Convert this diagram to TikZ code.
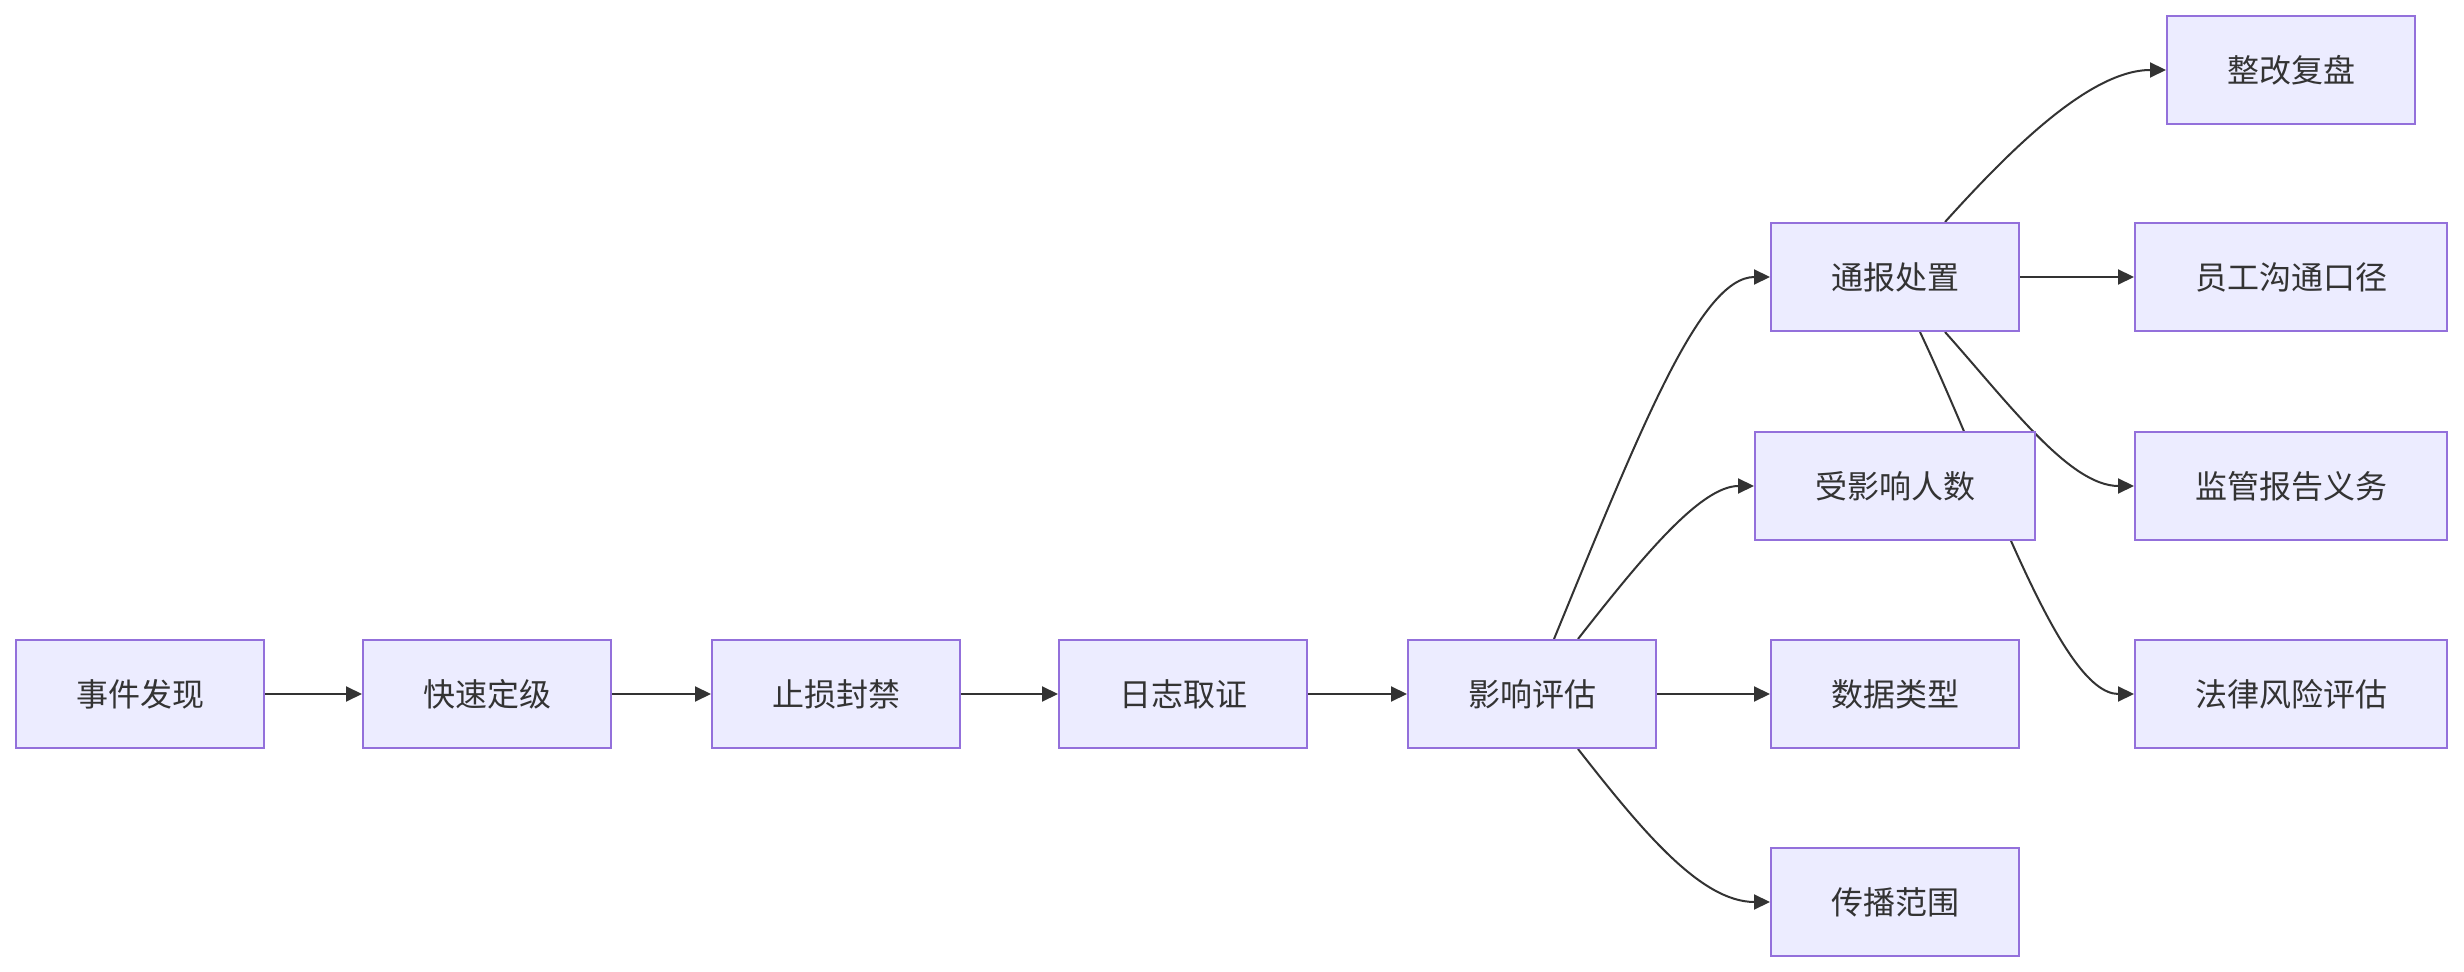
\documentclass[tikz,border=0pt]{standalone}
\usepackage{fontspec}
\newfontfamily\cjk{Noto Sans CJK SC}
\usepackage{xcolor}
\usetikzlibrary{arrows.meta, positioning, backgrounds}
\definecolor{boxfill}{HTML}{ECECFF}
\definecolor{boxline}{HTML}{9370DB}
\definecolor{ink}{HTML}{333333}
\tikzset{
    stage/.style={rectangle, minimum width=124pt, minimum height=54pt, inner xsep=30pt, text centered, draw=boxline, line width=1pt, fill=boxfill, text=ink, font=\cjk\fontsize{16}{16}\selectfont},
    arrow/.style={draw=ink, line width=1pt, -{Triangle[length=8pt, width=7.5pt]}}
}

\begin{document}
\begin{tikzpicture}[x=0.5pt, y=-0.5pt]
    \useasboundingbox (0,0) rectangle (2464,972);
    % main chain
    \node (find) [stage] at (140,694) {事件发现};
    \node (grade) [stage] at (487,694) {快速定级};
    \node (stop) [stage] at (836,694) {止损封禁};
    \node (log) [stage] at (1183,694) {日志取证};
    \node (assess) [stage] at (1532,694) {影响评估};
    % assessment branches
    \node (notify) [stage] at (1895,277) {通报处置};
    \node (people) [stage] at (1895,486) {受影响人数};
    \node (dtype) [stage] at (1895,694) {数据类型};
    \node (spread) [stage] at (1895,902) {传播范围};
    % notification branches
    \node (review) [stage] at (2291,70) {整改复盘};
    \node (staff) [stage] at (2291,277) {员工沟通口径};
    \node (regul) [stage] at (2291,486) {监管报告义务};
    \node (legal) [stage] at (2291,694) {法律风险评估};

    \begin{scope}[on background layer]
    \draw [arrow] (find) -- (grade);
    \draw [arrow] (grade) -- (stop);
    \draw [arrow] (stop) -- (log);
    \draw [arrow] (log) -- (assess);
    \draw [arrow] (assess.north -| 1554,0) .. controls (1640,430) and (1700,277) .. (notify.west);
    \draw [arrow] (assess.north -| 1578,0) .. controls (1640,560) and (1700,486) .. (people.west);
    \draw [arrow] (assess) -- (dtype);
    \draw [arrow] (assess.south -| 1578,0) .. controls (1640,828) and (1700,902) .. (spread.west);
    \draw [arrow] (notify.north -| 1945,0) .. controls (2010,150) and (2090,70) .. (review.west);
    \draw [arrow] (notify) -- (staff);
    \draw [arrow] (notify.south -| 1945,0) .. controls (2010,405) and (2070,486) .. (regul.west);
    \draw [arrow] (notify.south -| 1920,0) .. controls (1990,480) and (2060,694) .. (legal.west);
    \end{scope}
\end{tikzpicture}
\end{document}
